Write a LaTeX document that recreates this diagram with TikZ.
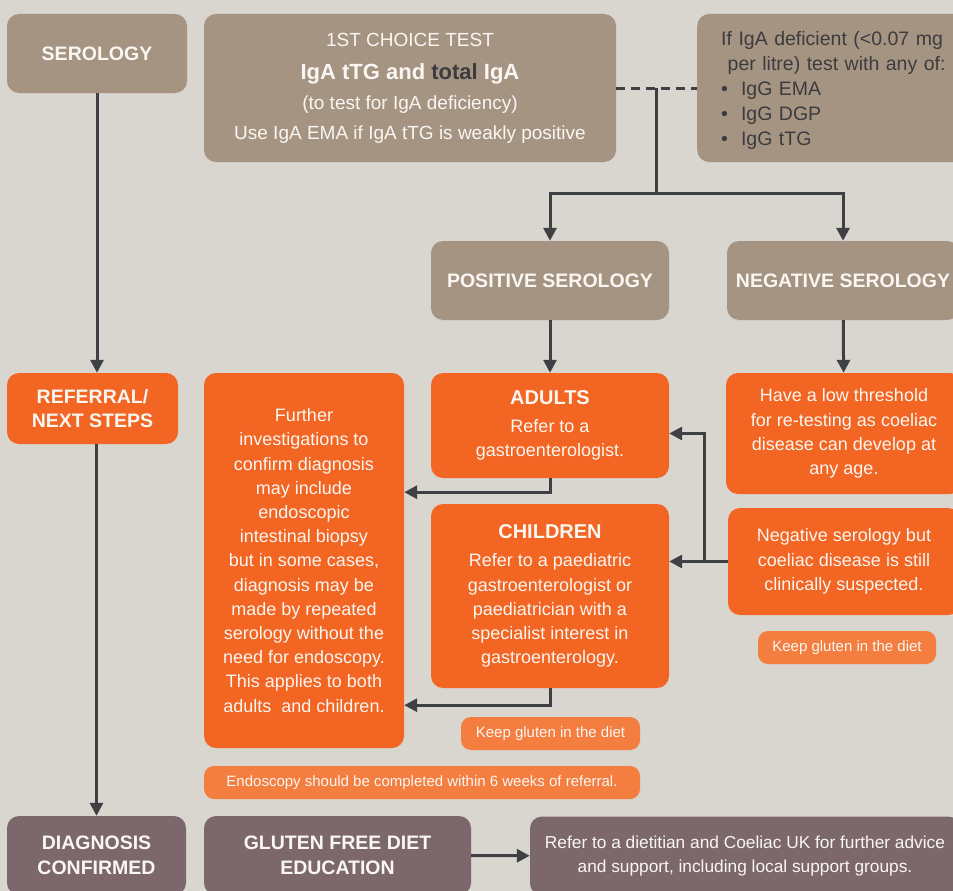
\documentclass[tikz,border=0pt]{standalone}
\usepackage{fontspec}
\setmainfont{Liberation Sans}
\usepackage{xcolor}
\usetikzlibrary{positioning,calc,arrows.meta}
\definecolor{bgcol}{HTML}{D9D5CF}
\definecolor{taupe}{HTML}{A69483}
\definecolor{cborange}{HTML}{F26522}
\definecolor{pillorange}{HTML}{F47D40}
\definecolor{mauve}{HTML}{7C686C}
\definecolor{linegrey}{HTML}{3F4043}
\definecolor{darktext}{HTML}{3C3C3E}
\definecolor{paletext}{HTML}{FAF6F2}

\begin{document}
\begin{tikzpicture}[x=1pt,y=-1pt,
    box/.style={rectangle, rounded corners=12pt, align=center, text=paletext, inner sep=0pt},
    taupebox/.style={box, fill=taupe},
    orangebox/.style={box, fill=cborange},
    mauvebox/.style={box, fill=mauve},
    pill/.style={box, fill=pillorange, rounded corners=10pt, minimum height=33pt, font=\fontsize{15}{18}\selectfont},
    head/.style={font=\bfseries\fontsize{19.5}{24.5}\selectfont},
    body/.style={font=\fontsize{18}{24.2}\selectfont},
    conn/.style={draw=linegrey, line width=3pt},
    arr/.style={conn, -{Triangle[length=13pt,width=13pt]}}]

    \clip (0,0) rectangle (953,891);
    \fill[bgcol] (0,0) rectangle (953,891);

    \node (serology) [taupebox, head, minimum width=180pt, minimum height=79pt] at (97,53.5) {SEROLOGY};
    \node (firsttest) [taupebox, minimum width=412pt, minimum height=148pt, font=\fontsize{19}{30}\selectfont] at (410,88)
        {1ST CHOICE TEST\\[3pt] {\bfseries\fontsize{22}{30}\selectfont IgA tTG and \textcolor{darktext}{total} IgA}\\ (to test for IgA deficiency)\\ Use IgA EMA if IgA tTG is weakly positive};
    \node (igadef) [taupebox, text=darktext, align=left, text width=260pt, inner xsep=24pt, minimum height=148pt, anchor=west, font=\fontsize{19.5}{25}\selectfont] at (697,88)
        {\vphantom{Ig}\\[-20pt] If IgA deficient (<0.07 mg\\ \ per litre) test with any of:\\ \textbullet\ \ IgG EMA\\ \textbullet\ \ IgG DGP\\ \textbullet\ \ IgG tTG};

    \node (positive) [taupebox, head, minimum width=238pt, minimum height=79pt] at (550,280.5) {POSITIVE SEROLOGY};
    \node (negative) [taupebox, head, minimum width=232pt, minimum height=79pt] at (843,280.5) {NEGATIVE SEROLOGY};

    \node (referral) [orangebox, head, minimum width=171pt, minimum height=71pt] at (92.5,408.5) {REFERRAL/\\NEXT STEPS};
    \node (further) [orangebox, body, minimum width=200pt, minimum height=375pt] at (304,560.5)
        {Further\\ investigations to\\ confirm diagnosis\\ may include\\ endoscopic\\ intestinal biopsy\\ but in some cases,\\ diagnosis may be\\ made by repeated\\ serology without the\\ need for endoscopy.\\ This applies to both\\ adults\ \ and children.};
    \node (adults) [orangebox, body, minimum width=238pt, minimum height=105pt] at (550,425.5)
        {{\bfseries\fontsize{20}{24}\selectfont ADULTS}\\[4pt] Refer to a\\ gastroenterologist.};
    \node (children) [orangebox, body, minimum width=238pt, minimum height=184pt] at (550,596)
        {{\bfseries\fontsize{20}{24}\selectfont CHILDREN}\\[4pt] Refer to a paediatric\\ gastroenterologist or\\ paediatrician with a\\ specialist interest in\\ gastroenterology.};
    \node (lowthresh) [orangebox, body, minimum width=236pt, minimum height=121pt] at (844,433.5)
        {Have a low threshold\\ for re-testing as coeliac\\ disease can develop at\\ any age.};
    \node (negbut) [orangebox, body, minimum width=232pt, minimum height=107pt] at (844,561.5)
        {Negative serology but\\ coeliac disease is still\\ clinically suspected.};

    \node (keepright) [pill, minimum width=178pt] at (847,647.5) {Keep gluten in the diet};
    \node (keepmid) [pill, minimum width=179pt] at (550.5,733.5) {Keep gluten in the diet};
    \node (endoscopy) [pill, minimum width=436pt] at (422,782.5) {Endoscopy should be completed within 6 weeks of referral.};

    \node (diagnosis) [mauvebox, head, minimum width=179pt, minimum height=79pt] at (96.5,855.5) {DIAGNOSIS\\CONFIRMED};
    \node (gfdiet) [mauvebox, head, minimum width=267pt, minimum height=79pt] at (337.5,855.5) {GLUTEN FREE DIET\\EDUCATION};
    \node (dietitian) [mauvebox, body, font=\fontsize{17.3}{24.5}\selectfont, minimum width=430pt, minimum height=79pt] at (745,856)
        {Refer to a dietitian and Coeliac UK for further advice\\ and support, including local support groups.};

    \coordinate (dashmid) at ($(firsttest.east)!0.5!(igadef.west)$);
    \coordinate (fork) at ($(dashmid)+(0,105)$);
    \draw[conn, dash pattern=on 9pt off 6pt] (firsttest.east) -- (igadef.west);
    \draw[conn] (dashmid) -- (fork);
    \draw[arr] (fork) -| (positive.north);
    \draw[arr] (fork) -| (negative.north);

    \draw[arr] (serology.south) -- (serology.south |- referral.north);
    \draw[arr] (diagnosis.north |- referral.south) -- (diagnosis.north);
    \draw[arr] (positive) -- (adults);
    \draw[arr] (negative) -- (lowthresh);
    \draw[arr] (adults.south) |- ([yshift=-14pt]adults.south -| further.east);
    \draw[arr] (children.south) |- ([yshift=-17pt]children.south -| further.east);
    \draw[arr] (negbut.west) -- (negbut.west -| children.east);
    \draw[arr] ([xshift=-23pt]negbut.west) |- ([yshift=-8pt]adults.east);
    \draw[arr] (gfdiet) -- (dietitian);
\end{tikzpicture}
\end{document}
